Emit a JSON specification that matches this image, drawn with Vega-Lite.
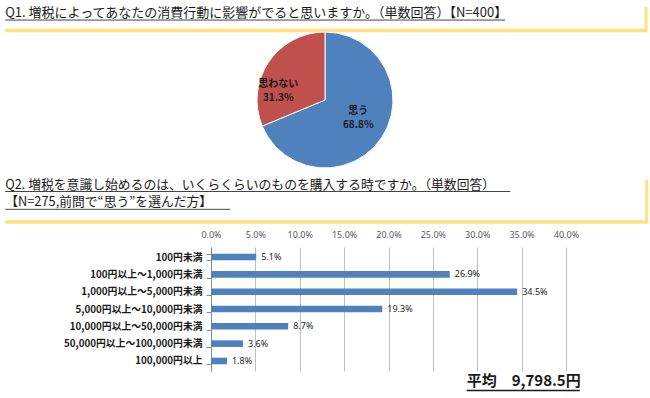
{
  "$schema": "https://vega.github.io/schema/vega-lite/v6.json",
  "padding": 0,
  "background": "white",
  "spacing": 0,
  "bounds": "flush",
  "config": {"view": {"stroke": null}, "font": "Noto Sans CJK JP"},
  "vconcat": [
    {
      "width": 650,
      "height": 34,
      "data": {"values": [{"q": "Q1. 増税によってあなたの消費行動に影響がでると思いますか。（単数回答）【N=400】"}]},
      "layer": [
        {
          "mark": {"type": "text", "align": "left", "baseline": "middle", "fontSize": 13, "color": "#1a1a1a", "font": "Noto Sans CJK JP"},
          "encoding": {
            "x": {"datum": 0.8, "type": "quantitative", "scale": {"domain": [0, 100]}, "axis": null},
            "y": {"datum": 39, "type": "quantitative", "scale": {"domain": [0, 100], "reverse": true}, "axis": null},
            "text": {"field": "q"}
          }
        },
        {
          "mark": {"type": "rule", "color": "#444444", "strokeWidth": 1},
          "encoding": {
            "x": {"datum": 0.8, "type": "quantitative"},
            "x2": {"datum": 77.7},
            "y": {"datum": 59, "type": "quantitative"}
          }
        },
        {
          "mark": {"type": "rule", "color": "#FFE17D", "strokeWidth": 3.5},
          "encoding": {
            "x": {"datum": 0.8, "type": "quantitative"},
            "x2": {"datum": 99.4},
            "y": {"datum": 90, "type": "quantitative"}
          }
        },
        {
          "mark": {"type": "rule", "color": "#FFE17D", "strokeWidth": 3},
          "encoding": {
            "x": {"datum": 99.4, "type": "quantitative"},
            "y": {"datum": 20, "type": "quantitative"},
            "y2": {"datum": 95}
          }
        }
      ]
    },
    {
      "width": 650,
      "height": 132,
      "data": {"values": [
        {"answer": "思う", "pct": 68.8, "label": "思う\n68.8%", "rank": 1},
        {"answer": "思わない", "pct": 31.3, "label": "思わない\n31.3%", "rank": 2}
      ]},
      "encoding": {
        "theta": {"field": "pct", "type": "quantitative", "stack": true},
        "order": {"field": "rank", "type": "quantitative"}
      },
      "layer": [
        {
          "mark": {"type": "arc", "outerRadius": 68, "stroke": "white", "strokeWidth": 1},
          "encoding": {
            "color": {"field": "answer", "type": "nominal", "scale": {"domain": ["思う", "思わない"], "range": ["#4F81BD", "#C0504D"]}, "legend": null}
          }
        },
        {
          "mark": {"type": "text", "radius": 40, "dy": -11, "lineBreak": "\n", "lineHeight": 14, "fontSize": 10, "fontWeight": "bold", "color": "#1a1a1a", "align": "center", "baseline": "middle"},
          "encoding": {
            "text": {"field": "label", "condition": {"test": "datum.answer !== '思う'", "value": ""}}
          }
        },
        {
          "mark": {"type": "text", "radius": 49, "dx": -6, "dy": 11, "lineBreak": "\n", "lineHeight": 14, "fontSize": 10, "fontWeight": "bold", "color": "#1a1a1a", "align": "center", "baseline": "middle"},
          "encoding": {
            "text": {"field": "label", "condition": {"test": "datum.answer !== '思わない'", "value": ""}}
          }
        }
      ]
    },
    {
      "width": 650,
      "height": 81,
      "data": {"values": [{"line1": "Q2. 増税を意識し始めるのは、いくらくらいのものを購入する時ですか。（単数回答）", "line2": "【N=275,前問で“思う”を選んだ方】"}]},
      "layer": [
        {
          "mark": {"type": "text", "align": "left", "baseline": "middle", "fontSize": 12.8, "color": "#1a1a1a", "font": "Noto Sans CJK JP"},
          "encoding": {
            "x": {"datum": 0.8, "type": "quantitative", "scale": {"domain": [0, 100]}, "axis": null},
            "y": {"datum": 23, "type": "quantitative", "scale": {"domain": [0, 100], "reverse": true}, "axis": null},
            "text": {"field": "line1"}
          }
        },
        {
          "mark": {"type": "text", "align": "left", "baseline": "middle", "fontSize": 12.8, "color": "#1a1a1a", "font": "Noto Sans CJK JP"},
          "encoding": {
            "x": {"datum": 0.8, "type": "quantitative"},
            "y": {"datum": 45, "type": "quantitative"},
            "text": {"field": "line2"}
          }
        },
        {
          "mark": {"type": "rule", "color": "#444444", "strokeWidth": 1},
          "encoding": {
            "x": {"datum": 0.8, "type": "quantitative"},
            "x2": {"datum": 78.5},
            "y": {"datum": 31.5, "type": "quantitative"}
          }
        },
        {
          "mark": {"type": "rule", "color": "#444444", "strokeWidth": 1},
          "encoding": {
            "x": {"datum": 0.8, "type": "quantitative"},
            "x2": {"datum": 35.4},
            "y": {"datum": 53.5, "type": "quantitative"}
          }
        },
        {
          "mark": {"type": "rule", "color": "#FFE17D", "strokeWidth": 3.5},
          "encoding": {
            "x": {"datum": 0.8, "type": "quantitative"},
            "x2": {"datum": 99.5},
            "y": {"datum": 69.1, "type": "quantitative"}
          }
        },
        {
          "mark": {"type": "rule", "color": "#FFE17D", "strokeWidth": 3},
          "encoding": {
            "x": {"datum": 99.5, "type": "quantitative"},
            "y": {"datum": 17.3, "type": "quantitative"},
            "y2": {"datum": 71}
          }
        }
      ]
    },
    {
      "width": 650,
      "height": 124,
      "data": {"values": [
        {"cat": "100円未満", "share": 0.051},
        {"cat": "100円以上～1,000円未満", "share": 0.269},
        {"cat": "1,000円以上～5,000円未満", "share": 0.345},
        {"cat": "5,000円以上～10,000円未満", "share": 0.193},
        {"cat": "10,000円以上～50,000円未満", "share": 0.087},
        {"cat": "50,000円以上～100,000円未満", "share": 0.036},
        {"cat": "100,000円以上", "share": 0.018}
      ]},
      "encoding": {
        "y": {
          "field": "cat", "type": "nominal", "sort": null,
          "scale": {"paddingInner": 0.62, "paddingOuter": 0.39},
          "axis": {"title": null, "offset": -211, "labelFont": "Noto Sans CJK JP", "labelFontSize": 9.8, "labelFontWeight": "bold", "labelColor": "#1a1a1a", "labelPadding": 4, "tickSize": 5, "tickBand": "extent", "tickColor": "#8c8c8c", "domainColor": "#8c8c8c", "grid": false}
        },
        "x": {
          "field": "share", "type": "quantitative",
          "scale": {"domain": [-0.23775, 0.49465], "nice": false, "zero": false},
          "axis": {"orient": "top", "title": null, "values": [0, 0.05, 0.1, 0.15, 0.2, 0.25, 0.3, 0.35, 0.4], "format": ".1%", "grid": true, "gridColor": "#C0C0C0", "domain": false, "ticks": false, "labelPadding": 8, "labelFont": "Noto Sans", "labelFontSize": 9, "labelColor": "#595959"}
        }
      },
      "layer": [
        {"mark": {"type": "bar", "color": "#4F81BD"}},
        {
          "mark": {"type": "text", "align": "left", "baseline": "middle", "dx": 5, "fontSize": 9, "font": "Noto Sans", "color": "#262626"},
          "encoding": {"text": {"field": "share", "type": "quantitative", "format": ".1%"}}
        }
      ]
    },
    {
      "width": 650,
      "height": 27,
      "data": {"values": [{"avg": "平均　9,798.5円"}]},
      "layer": [
        {
          "mark": {"type": "text", "align": "left", "baseline": "middle", "fontSize": 15, "fontWeight": "bold", "color": "#1a1a1a", "font": "Noto Sans CJK JP"},
          "encoding": {
            "x": {"datum": 71.8, "type": "quantitative", "scale": {"domain": [0, 100]}, "axis": null},
            "y": {"datum": 37, "type": "quantitative", "scale": {"domain": [0, 100], "reverse": true}, "axis": null},
            "text": {"field": "avg"}
          }
        },
        {
          "mark": {"type": "rule", "color": "#1a1a1a", "strokeWidth": 1.5},
          "encoding": {
            "x": {"datum": 71.8, "type": "quantitative"},
            "x2": {"datum": 89.2},
            "y": {"datum": 72, "type": "quantitative"}
          }
        }
      ]
    }
  ]
}
